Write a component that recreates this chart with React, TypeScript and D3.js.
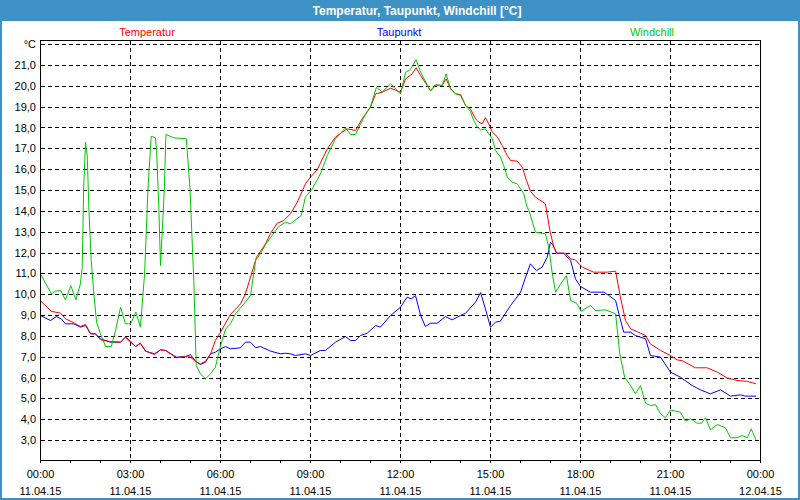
import React from "react";
import * as d3 from "d3";

// hours since 11.04.15 00:00, value in °C
const temperatur: [number, number][] = [
  [0, 9.7], [0.36, 9.2], [0.67, 9.11], [0.83, 8.84], [1.0, 8.73], [1.33, 8.47],
  [1.5, 8.57], [1.67, 8.12], [1.83, 8.12], [2.0, 7.83], [2.33, 7.75], [2.67, 7.72],
  [2.83, 7.96], [3.0, 7.72], [3.17, 7.51], [3.33, 7.67], [3.5, 7.29], [3.8, 7.13],
  [4.0, 7.35], [4.17, 7.32], [4.53, 6.97], [4.83, 7.03], [5.0, 7.0], [5.17, 6.8],
  [5.33, 6.68], [5.5, 6.8], [5.67, 7.16], [5.83, 7.8], [6.0, 8.2], [6.33, 9.05],
  [6.67, 9.56], [6.83, 10.04], [7.0, 10.84], [7.2, 11.8], [7.5, 12.44], [7.67, 12.95],
  [7.89, 13.43], [8.11, 13.56], [8.33, 13.88], [8.56, 14.44], [8.83, 15.32], [9.0, 15.64],
  [9.22, 15.99], [9.56, 17.0], [9.83, 17.56], [10.06, 17.8], [10.22, 17.96], [10.5, 17.88],
  [10.72, 18.44], [11.0, 19.0], [11.17, 19.64], [11.39, 19.72], [11.67, 19.91], [12.0, 19.72],
  [12.17, 20.36], [12.39, 20.6], [12.52, 20.89], [12.67, 20.52], [13.0, 19.8], [13.17, 20.07],
  [13.39, 20.04], [13.52, 20.36], [13.67, 19.88], [13.83, 19.64], [14.0, 19.61], [14.17, 19.08],
  [14.33, 18.92], [14.5, 18.44], [14.61, 18.28], [14.72, 18.2], [14.83, 18.49], [14.94, 18.2],
  [15.06, 17.8], [15.22, 17.59], [15.39, 17.16], [15.56, 16.68], [15.67, 16.44], [15.89, 16.41],
  [16.06, 16.12], [16.2, 15.48], [16.33, 14.97], [16.5, 14.68], [16.83, 14.36], [16.98, 13.08],
  [17.11, 12.28], [17.22, 11.99], [17.5, 11.99], [17.67, 11.72], [17.83, 11.67], [18.06, 11.32],
  [18.44, 11.08], [18.89, 11.08], [19.17, 11.13], [19.33, 9.88], [19.5, 8.76], [19.67, 8.36],
  [20.0, 8.15], [20.17, 8.04], [20.33, 7.64], [20.67, 7.32], [21.0, 7.08], [21.22, 6.87],
  [21.39, 6.83], [21.83, 6.49], [22.22, 6.49], [22.56, 6.28], [22.89, 6.0], [23.22, 5.88],
  [23.56, 5.84], [23.85, 5.72],
];

const taupunkt: [number, number][] = [
  [0, 9.0], [0.33, 8.76], [0.53, 8.95], [0.69, 8.84], [0.83, 8.6], [1.11, 8.6],
  [1.33, 8.44], [1.5, 8.52], [1.67, 8.12], [1.83, 8.12], [2.0, 7.88], [2.33, 7.72],
  [2.67, 7.72], [2.83, 7.96], [3.0, 7.77], [3.17, 7.51], [3.33, 7.67], [3.5, 7.29],
  [3.8, 7.16], [4.0, 7.35], [4.17, 7.32], [4.53, 7.0], [4.83, 7.03], [5.0, 7.12],
  [5.17, 6.8], [5.33, 6.65], [5.5, 6.76], [5.67, 7.16], [5.83, 7.24], [6.0, 7.4],
  [6.17, 7.51], [6.33, 7.4], [6.67, 7.45], [6.83, 7.72], [7.0, 7.72], [7.17, 7.45],
  [7.33, 7.51], [7.67, 7.29], [8.0, 7.16], [8.17, 7.19], [8.33, 7.16], [8.5, 7.08],
  [8.83, 7.16], [9.0, 7.08], [9.33, 7.32], [9.5, 7.32], [9.83, 7.72], [10.17, 7.99],
  [10.33, 7.8], [10.5, 7.8], [10.67, 8.04], [10.89, 8.15], [11.17, 8.52], [11.33, 8.44],
  [11.67, 9.0], [12.0, 9.4], [12.22, 9.88], [12.36, 9.8], [12.5, 9.96], [12.67, 9.0],
  [12.83, 8.47], [13.0, 8.63], [13.22, 8.63], [13.5, 8.95], [13.72, 8.79], [14.0, 9.0],
  [14.17, 9.11], [14.5, 9.64], [14.67, 10.1], [14.83, 9.32], [15.0, 8.44], [15.17, 8.68],
  [15.33, 8.73], [15.5, 9.11], [15.67, 9.48], [16.0, 10.12], [16.17, 10.84], [16.33, 11.48],
  [16.53, 11.16], [16.72, 11.32], [16.89, 11.8], [17.0, 12.52], [17.09, 12.36], [17.2, 11.99],
  [17.44, 11.99], [17.67, 11.64], [17.83, 10.76], [18.0, 10.39], [18.33, 10.12], [18.78, 10.12],
  [18.94, 9.96], [19.17, 9.72], [19.28, 9.08], [19.44, 8.2], [19.67, 8.2], [19.83, 8.04],
  [20.17, 7.88], [20.33, 7.08], [20.67, 7.0], [21.0, 6.28], [21.33, 6.04], [21.72, 5.64],
  [22.0, 5.43], [22.33, 5.24], [22.67, 5.43], [23.0, 5.13], [23.33, 5.19], [23.5, 5.13],
  [23.85, 5.13],
];

const windchill: [number, number][] = [
  [0, 11.0], [0.36, 10.04], [0.5, 10.17], [0.67, 10.2], [0.83, 9.75], [1.01, 10.43],
  [1.18, 9.75], [1.33, 10.52], [1.39, 11.3], [1.44, 15.16], [1.5, 17.32], [1.56, 16.6],
  [1.61, 14.2], [1.69, 11.64], [1.78, 10.04], [1.87, 8.68], [2.0, 8.12], [2.17, 7.51],
  [2.36, 7.51], [2.5, 8.28], [2.67, 9.4], [2.83, 8.6], [3.0, 8.6], [3.18, 9.16],
  [3.33, 8.44], [3.47, 11.0], [3.58, 15.0], [3.69, 17.6], [3.83, 17.53], [3.87, 16.92],
  [3.94, 14.36], [4.0, 11.4], [4.06, 13.08], [4.13, 15.16], [4.18, 17.69], [4.44, 17.53],
  [4.86, 17.48], [4.98, 15.16], [5.11, 10.68], [5.19, 6.6], [5.33, 6.2], [5.5, 5.96],
  [5.67, 6.2], [5.83, 6.52], [6.0, 7.55], [6.17, 8.35], [6.33, 8.6], [6.5, 9.08],
  [6.83, 9.64], [7.0, 9.96], [7.17, 11.64], [7.33, 11.96], [7.5, 12.4], [7.72, 12.84],
  [7.94, 13.27], [8.17, 13.48], [8.33, 13.4], [8.69, 13.8], [8.83, 14.68], [9.06, 15.08],
  [9.33, 15.8], [9.56, 16.68], [9.83, 17.48], [10.17, 18.01], [10.33, 17.69], [10.5, 17.69],
  [10.78, 18.52], [11.0, 19.03], [11.2, 19.96], [11.39, 19.72], [11.67, 20.12], [12.0, 19.64],
  [12.17, 20.68], [12.33, 20.8], [12.52, 21.28], [12.67, 20.68], [13.0, 19.77], [13.17, 20.07],
  [13.39, 20.04], [13.52, 20.6], [13.67, 19.88], [13.83, 19.64], [14.0, 19.56], [14.17, 19.08],
  [14.33, 18.8], [14.44, 18.36], [14.56, 18.04], [14.67, 17.91], [14.83, 17.96], [14.94, 17.72],
  [15.06, 17.48], [15.17, 16.92], [15.33, 16.6], [15.44, 16.2], [15.56, 15.64], [15.72, 15.4],
  [15.89, 15.32], [16.0, 15.08], [16.11, 14.84], [16.22, 14.2], [16.28, 14.04], [16.5, 13.0],
  [16.83, 12.92], [16.94, 12.28], [17.06, 11.0], [17.17, 10.12], [17.33, 10.49], [17.53, 10.92],
  [17.67, 9.72], [17.87, 9.59], [18.02, 9.2], [18.33, 9.48], [18.5, 9.24], [18.83, 9.27],
  [19.17, 9.08], [19.31, 7.16], [19.47, 6.04], [19.67, 5.64], [19.83, 5.24], [20.0, 5.64],
  [20.17, 4.79], [20.33, 4.68], [20.5, 4.72], [20.67, 4.28], [20.83, 4.09], [21.0, 4.47],
  [21.33, 4.36], [21.5, 3.93], [21.67, 4.04], [21.89, 3.83], [22.03, 3.83], [22.17, 4.09],
  [22.33, 3.51], [22.56, 3.77], [22.83, 3.61], [23.0, 3.13], [23.22, 3.13], [23.39, 3.24],
  [23.56, 3.13], [23.69, 3.56], [23.85, 3.03],
];

const yTicks = [3, 4, 5, 6, 7, 8, 9, 10, 11, 12, 13, 14, 15, 16, 17, 18, 19, 20, 21, 22];
const xMajor = [0, 3, 6, 9, 12, 15, 18, 21, 24];
const timeLabels = ["00:00", "03:00", "06:00", "09:00", "12:00", "15:00", "18:00", "21:00", "00:00"];
const dateLabels = ["11.04.15", "11.04.15", "11.04.15", "11.04.15", "11.04.15", "11.04.15", "11.04.15", "11.04.15", "12.04.15"];

const series = [
  { name: "Taupunkt", data: taupunkt, color: "#0000ff", legendX: 399 },
  { name: "Temperatur", data: temperatur, color: "#ff0000", legendX: 147 },
  { name: "Windchill", data: windchill, color: "#00c800", legendX: 652 },
];

const W = 800;
const H = 500;
const left = 40;
const right = 760;
const top = 40;
const bottom = 460;
const frame = "#3d91c4";
const font = "'Liberation Sans', Arial, sans-serif";

const App = () => {
  const x = d3.scaleLinear().domain([0, 24]).range([left, right]);
  const y = d3.scaleLinear().domain([2.04, 22.2]).range([bottom, top]);
  const line = d3
    .line<[number, number]>()
    .x((d) => x(d[0]))
    .y((d) => y(d[1]));
  const px = (v: number) => Math.round(v) + 0.5;

  return (
    <div style={{ position: "fixed", left: 0, top: 0 }}>
      <svg width={W} height={H} style={{ display: "block" }}>
        <rect x={0} y={0} width={W} height={H} fill="#ffffff" />
        {/* window frame + title bar */}
        <rect x={0} y={0} width={W} height={21} fill={frame} />
        <rect x={0} y={0} width={2} height={H} fill={frame} />
        <rect x={W - 2} y={0} width={2} height={H} fill={frame} />
        <rect x={0} y={H - 2} width={W} height={2} fill={frame} />
        <text
          x={417}
          y={14.5}
          textAnchor="middle"
          fill="#ffffff"
          fontFamily={font}
          fontWeight="bold"
          fontSize={12}
        >
          Temperatur, Taupunkt, Windchill [°C]
        </text>

        {/* legend */}
        {series.map((s) => (
          <text
            key={s.name}
            x={s.legendX}
            y={36}
            textAnchor="middle"
            fill={s.color}
            fontFamily={font}
            fontSize={11}
          >
            {s.name}
          </text>
        ))}

        {/* grid */}
        <g stroke="#000" strokeWidth={1} strokeDasharray="4,3" shapeRendering="crispEdges">
          {yTicks.map((v) => (
            <line key={"gy" + v} x1={left + 1} x2={right} y1={px(y(v))} y2={px(y(v))} />
          ))}
          {xMajor
            .filter((h) => h > 0 && h < 24)
            .map((h) => (
              <line key={"gx" + h} x1={px(x(h))} x2={px(x(h))} y1={top + 1} y2={bottom} />
            ))}
        </g>

        {/* y labels */}
        {yTicks.map((v) => (
          <text
            key={"ly" + v}
            x={36}
            y={y(v) + 4}
            textAnchor="end"
            fill="#000"
            fontFamily={font}
            fontSize={11}
          >
            {v === 22 ? "°C" : v.toFixed(1).replace(".", ",")}
          </text>
        ))}

        {/* series */}
        {series.map((s) => (
          <path
            key={"s" + s.name}
            d={line(s.data) || ""}
            fill="none"
            stroke={s.color}
            strokeWidth={1}
            transform="translate(0.5,0.5)"
          />
        ))}

        {/* plot border and axes */}
        <g stroke="#000" strokeWidth={1} shapeRendering="crispEdges" fill="none">
          <rect x={px(left)} y={px(top)} width={right - left} height={bottom - top} />
          {d3.range(0, 25).map((h) => (
            <line key={"t" + h} x1={px(x(h))} x2={px(x(h))} y1={bottom} y2={bottom + 3} />
          ))}
        </g>

        {/* x labels */}
        {xMajor.map((h, i) => (
          <g key={"lx" + h} fontFamily={font} fontSize={11} fill="#000" textAnchor="middle">
            <text x={x(h) + 0.5} y={478}>
              {timeLabels[i]}
            </text>
            <text x={x(h) + 0.5} y={495}>
              {dateLabels[i]}
            </text>
          </g>
        ))}
      </svg>
    </div>
  );
};

export default App;
